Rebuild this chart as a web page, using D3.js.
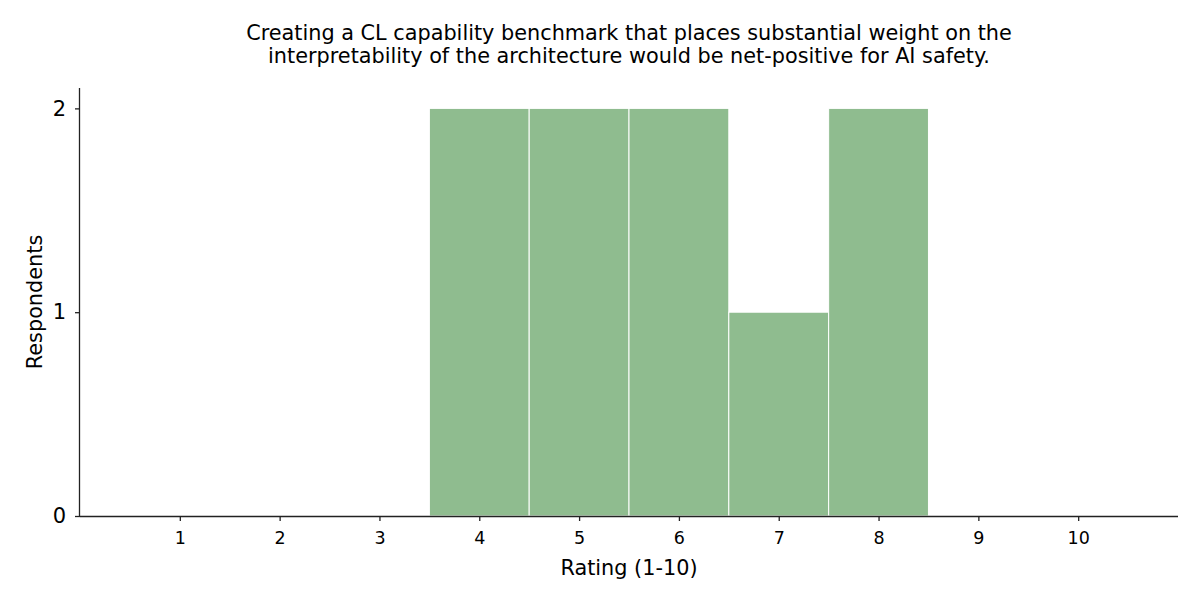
<!DOCTYPE html>
<html><head><meta charset="utf-8">
<script src="https://cdn.jsdelivr.net/npm/d3@7"></script>
<style>body{margin:0;background:#fff;} svg{display:block;font-family:"DejaVu Sans",sans-serif;}</style>
</head><body>
<svg id="c" width="1200" height="600"></svg>
<script>
const ratings = [1,2,3,4,5,6,7,8,9,10];
const counts = [0,0,0,2,2,2,1,2,0,0];
const yTicks = [0,1,2];
const titleLines = ["Creating a CL capability benchmark that places substantial weight on the","interpretability of the architecture would be net-positive for AI safety."];

const svg = d3.select("#c");
const m = {l:80, r:1178, t:88, b:516};
const x = d3.scaleLinear().domain([0,11]).range([m.l,m.r]);
const y = d3.scaleLinear().domain([0,2.1]).range([m.b,m.t]);

svg.append("g").selectAll("rect").data(ratings.map((r,i)=>({r,c:counts[i]})).filter(d=>d.c>0))
  .join("rect")
  .attr("x",d=>x(d.r-0.5)).attr("width",d=>x(d.r+0.5)-x(d.r-0.5))
  .attr("y",d=>y(d.c)).attr("height",d=>y(0)-y(d.c))
  .attr("fill","#8fbc8f").attr("stroke","#fff").attr("stroke-width",1);

const xa = svg.append("g").attr("transform",`translate(0,${m.b})`)
  .call(d3.axisBottom(x).tickValues(ratings).tickSize(5).tickPadding(10.5).tickFormat(d3.format("d")));
xa.select(".domain").attr("d",`M${m.l},0.5H${m.r}`);
xa.selectAll("text").attr("font-size","17.5px").attr("fill","#000").attr("font-family","DejaVu Sans");
const ya = svg.append("g").attr("transform",`translate(${m.l},0)`)
  .call(d3.axisLeft(y).tickValues(yTicks).tickSize(5).tickPadding(9).tickFormat(d3.format("d")));
ya.select(".domain").attr("d",`M-0.5,${m.b}V${m.t}`);
ya.selectAll("text").attr("font-size","21px").attr("fill","#000").attr("font-family","DejaVu Sans");
svg.selectAll(".domain,.tick line").attr("stroke","#222").attr("stroke-width",1.3);

svg.append("text").attr("x",(m.l+m.r)/2).attr("y",575).attr("text-anchor","middle")
  .attr("font-size","20.8px").text("Rating (1-10)");
svg.append("text").attr("transform",`translate(42,${(m.t+m.b)/2}) rotate(-90)`).attr("text-anchor","middle")
  .attr("font-size","20.8px").text("Respondents");
svg.append("g").selectAll("text").data(titleLines).join("text")
  .attr("x",(m.l+m.r)/2).attr("y",(d,i)=>40+i*22.5).attr("text-anchor","middle")
  .attr("font-size","20.8px").text(d=>d);
</script>
</body></html>
